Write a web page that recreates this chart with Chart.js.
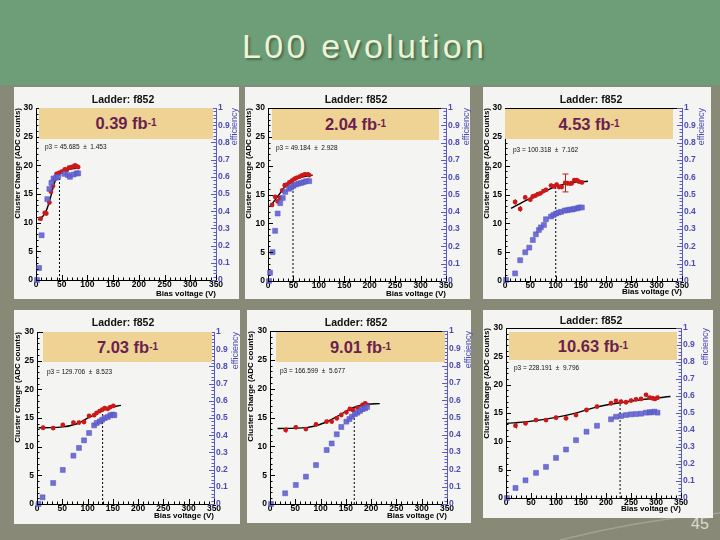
<!DOCTYPE html>
<html>
<head>
<meta charset="utf-8">
<script src="https://cdn.jsdelivr.net/npm/chart.js@4.4.0/dist/chart.umd.min.js"></script>
<style>
html,body{margin:0;padding:0;}
body{width:720px;height:540px;position:relative;overflow:hidden;background:#888977;font-family:"Liberation Sans",Arial,sans-serif;}
#header{position:absolute;left:0;top:0;width:720px;height:85px;background:#6d9e78;}
#title{position:absolute;left:242px;top:29px;font-size:34px;line-height:34px;letter-spacing:3.3px;color:#eef3d6;text-shadow:2px 2px 2px rgba(40,70,45,0.55);white-space:nowrap;}
#pageno{position:absolute;left:691px;top:516px;font-size:16px;line-height:16px;color:#dcdccc;}
#deco{position:absolute;left:0;top:0;}
.panel{position:absolute;background:#f4f4f2;}
.panel canvas{position:absolute;left:0;top:0;}
.ov{position:absolute;white-space:nowrap;}
.ladder{font-size:10.5px;line-height:11px;font-weight:bold;color:#111;transform:translateX(-50%);}
.leg{background:#eed395;display:flex;align-items:center;justify-content:center;font-weight:bold;font-size:16.5px;color:#6b1f4f;}
.leg sup{font-size:10px;position:relative;top:-1px;}
.par{font-size:6.5px;line-height:7px;color:#111;}
.eff{font-size:9px;line-height:9px;color:#4b4bb5;transform-origin:0 0;transform:rotate(-90deg) translate(-100%,-50%);}
</style>
</head>
<body>
<div id="header"></div>
<div id="title">L00 evolution</div>
<svg id="deco" width="720" height="540"><path d="M560 540 Q 640 520 720 513" fill="none" stroke="rgba(255,255,255,0.22)" stroke-width="1.5"/></svg>
<div id="pageno">45</div>

<script>
// ---------------- DATA ----------------
const luminosity = ['0.39', '2.04', '4.53', '7.03', '9.01', '10.63'];
const ladderName = 'f852';
const p3Values = [45.685, 49.184, 100.318, 129.706, 166.599, 228.191];
const p3Errors = [1.453, 2.928, 7.162, 8.523, 5.677, 9.796];
const p3Charge = [18.6, 17.35, 16.4, 16.4, 16.75, 16.85];

const xTicks = [0, 50, 100, 150, 200, 250, 300, 350];

// panel 1 : 0.39 fb-1
const effV1 = [2, 6, 11, 22, 26, 30, 34, 39, 43, 55, 62, 66, 73, 79, 82];
const eff1  = [0.0, 0.07, 0.26, 0.47, 0.53, 0.565, 0.59, 0.595, 0.60, 0.617, 0.61, 0.60, 0.613, 0.62, 0.62];
const redV1 = [9, 17, 20, 26, 29, 33, 36, 40, 45, 50, 56, 60, 64, 69, 73, 76, 79, 82];
const q1    = [10.7, 11.7, 11.6, 13.5, 15.4, 16.4, 17.6, 18.5, 18.7, 18.9, 19.3, 19.2, 19.6, 19.7, 19.8, 20.0, 19.8, 19.7];
const err1  = [0.35, 0.35, 0.35, 0.35, 0.35, 0.35, 0.35, 0.35, 0.35, 0.35, 0.35, 0.35, 0.35, 0.35, 0.35, 0.35, 0.35, 0.35];
const fitV1 = [4, 10, 15, 20, 25, 30, 35, 40, 45, 50, 60, 70, 85];
const fitQ1 = [10.5, 10.8, 11.3, 12.1, 13.4, 15.0, 16.7, 17.9, 18.6, 18.9, 19.2, 19.4, 19.6];

// panel 2 : 2.04 fb-1
const effV2 = [2, 4, 9, 14, 19, 24, 29, 34, 41, 45, 50, 55, 60, 65, 70, 75, 81];
const eff2  = [0.0, 0.048, 0.167, 0.29, 0.39, 0.45, 0.48, 0.515, 0.533, 0.54, 0.55, 0.558, 0.563, 0.567, 0.571, 0.577, 0.577];
const redV2 = [8, 14, 19, 24, 28, 33, 37, 42, 47, 52, 56, 62, 67, 72, 78, 81];
const q2    = [13.2, 14.6, 13.8, 14.4, 15.7, 16.6, 16.7, 17.1, 17.4, 17.7, 17.9, 18.1, 18.3, 18.5, 18.5, 18.35];
const err2  = [0.35, 0.35, 0.35, 0.35, 0.35, 0.35, 0.35, 0.35, 0.35, 0.35, 0.35, 0.35, 0.35, 0.35, 0.35, 0.35];
const fitV2 = [4, 12, 22, 32, 48, 65, 88];
const fitQ2 = [13.0, 13.85, 15.0, 16.2, 17.3, 18.0, 18.35];

// panel 3 : 4.53 fb-1
const effV3 = [2, 20, 30, 40, 48, 55, 61, 67, 71, 77, 81, 91, 96, 101, 106, 111, 118, 123, 128, 133, 137, 143, 147, 152];
const eff3  = [0.006, 0.044, 0.12, 0.166, 0.193, 0.237, 0.27, 0.295, 0.31, 0.324, 0.357, 0.373, 0.382, 0.39, 0.396, 0.40, 0.407, 0.409, 0.413, 0.413, 0.417, 0.42, 0.425, 0.425];
const redV3 = [20, 30, 40, 50, 55, 60, 65, 70, 76, 81, 91, 96, 102, 107, 112, 119, 123, 128, 132, 137, 142, 146, 152];
const q3    = [13.7, 12.5, 14.5, 14.1, 14.65, 14.8, 15.05, 15.2, 15.6, 15.8, 16.55, 16.4, 16.7, 16.3, 16.3, 17.0, 16.95, 16.9, 16.95, 17.5, 17.5, 17.25, 17.1];
const err3  = [0.45, 0.5, 0.35, 0.35, 0.35, 0.35, 0.35, 0.35, 0.35, 0.35, 0.35, 0.35, 0.35, 0.35, 0.35, 1.55, 0.35, 0.35, 0.35, 0.35, 0.35, 0.35, 0.35];
const fitV3 = [12, 45, 78, 101, 131, 164];
const fitQ3 = [12.6, 14.1, 15.5, 16.4, 17.05, 17.3];

// panel 4 : 7.03 fb-1
const effV4 = [3, 11, 32, 51, 72, 83, 93, 103, 113, 118, 124, 129, 134, 140, 145, 150, 153];
const eff4  = [0.0, 0.039, 0.122, 0.198, 0.281, 0.326, 0.37, 0.413, 0.457, 0.471, 0.48, 0.49, 0.50, 0.506, 0.516, 0.52, 0.516];
const redV4 = [12, 32, 51, 72, 83, 93, 103, 113, 118, 124, 129, 134, 140, 145, 151];
const q4    = [13.3, 13.25, 13.8, 14.2, 14.2, 14.3, 15.35, 15.5, 15.9, 16.2, 16.45, 16.7, 16.6, 16.9, 17.1];
const err4  = [0.35, 0.35, 0.35, 0.35, 0.35, 0.35, 0.35, 0.35, 0.35, 0.35, 0.35, 0.35, 0.35, 0.35, 0.35];
const fitV4 = [3, 46, 79, 102, 122, 138, 166];
const fitQ4 = [13.3, 13.4, 14.0, 15.05, 16.0, 16.7, 17.2];

// panel 5 : 9.01 fb-1
const effV5 = [2, 30, 51, 71, 91, 112, 122, 132, 141, 151, 157, 162, 168, 173, 178, 183, 188, 192];
const eff5  = [0.0, 0.062, 0.11, 0.158, 0.225, 0.312, 0.35, 0.403, 0.445, 0.476, 0.491, 0.505, 0.52, 0.528, 0.538, 0.549, 0.553, 0.561];
const redV5 = [31, 51, 71, 91, 112, 122, 132, 141, 151, 158, 164, 173, 183, 188, 192];
const q5    = [12.83, 13.3, 13.0, 13.8, 14.3, 14.3, 14.86, 15.43, 15.9, 16.47, 16.3, 16.7, 17.17, 17.45, 17.17];
const err5  = [0.45, 0.35, 0.35, 0.35, 0.35, 0.35, 0.35, 0.35, 0.35, 0.35, 0.35, 0.35, 0.35, 0.35, 0.35];
const fitV5 = [15, 72, 105, 132, 164, 194, 217];
const fitQ5 = [13.1, 13.25, 14.0, 15.15, 16.7, 17.3, 17.4];

// panel 6 : 10.63 fb-1
const effV6 = [2, 19, 39, 60, 80, 100, 120, 140, 161, 182, 210, 220, 230, 240, 250, 260, 270, 280, 287, 291, 297, 303];
const eff6  = [0.0, 0.059, 0.104, 0.148, 0.183, 0.236, 0.285, 0.34, 0.39, 0.425, 0.463, 0.478, 0.482, 0.488, 0.492, 0.494, 0.496, 0.502, 0.504, 0.504, 0.508, 0.502];
const redV6 = [19, 39, 60, 80, 100, 120, 140, 161, 182, 210, 220, 230, 240, 250, 260, 270, 280, 287, 293, 298, 303];
const q6    = [12.76, 13.17, 13.76, 13.76, 14.18, 14.06, 14.65, 15.53, 16.13, 16.72, 17.13, 17.0, 16.9, 17.19, 17.42, 17.48, 18.2, 17.7, 17.6, 17.48, 17.7];
const err6  = [0.5, 0.35, 0.35, 0.35, 0.35, 0.35, 0.35, 0.35, 0.35, 0.35, 0.35, 0.35, 0.35, 0.35, 0.35, 0.35, 0.35, 0.35, 0.35, 0.35, 0.35];
const fitV6 = [1, 44, 97, 137, 177, 230, 277, 329];
const fitQ6 = [13.17, 13.47, 14.18, 14.94, 15.95, 16.83, 17.42, 17.9];

const series = [
  {effV: effV1, eff: eff1, redV: redV1, q: q1, err: err1, fitV: fitV1, fitQ: fitQ1},
  {effV: effV2, eff: eff2, redV: redV2, q: q2, err: err2, fitV: fitV2, fitQ: fitQ2},
  {effV: effV3, eff: eff3, redV: redV3, q: q3, err: err3, fitV: fitV3, fitQ: fitQ3},
  {effV: effV4, eff: eff4, redV: redV4, q: q4, err: err4, fitV: fitV4, fitQ: fitQ4},
  {effV: effV5, eff: eff5, redV: redV5, q: q5, err: err5, fitV: fitV5, fitQ: fitQ5},
  {effV: effV6, eff: eff6, redV: redV6, q: q6, err: err6, fitV: fitV6, fitQ: fitQ6}
];

// ---------------- LAYOUT (page pixels) ----------------
// box: [left, top, width, height]; area: [left, right, top, bottom]
const layout = [
  {box: [14, 87, 225, 212],  area: [36, 216, 108, 280],  xtPad: 0, ladder: [123, 99],  leg: [39, 108, 174, 31],  par: [45, 146],  eff: [234, 108]},
  {box: [245, 87, 225, 212], area: [268, 446, 108, 281], xtPad: 0, ladder: [356, 99],  leg: [272, 109, 167, 31], par: [276, 147], eff: [466, 108]},
  {box: [483, 87, 228, 212], area: [505, 682, 108, 281], xtPad: 2, ladder: [591, 99],  leg: [505, 109, 168, 30], par: [513, 149], eff: [701, 108]},
  {box: [14, 310, 226, 214], area: [37, 214, 332, 504],  xtPad: 3, ladder: [123, 322], leg: [43, 332, 169, 30],  par: [47, 371],  eff: [235, 332]},
  {box: [247, 310, 224, 213], area: [270, 447, 331, 504], xtPad: 2, ladder: [356, 322], leg: [276, 332, 169, 30], par: [280, 370], eff: [468, 331]},
  {box: [483, 310, 230, 208], area: [506, 681, 328, 498], xtPad: 4, ladder: [591, 320], leg: [509, 332, 168, 28], par: [514, 367], eff: [705, 328]}
];

const FONT = '"Liberation Sans", Arial, sans-serif';
const BLUE_AXIS = '#5a5ac8';
const BLUE_TXT = '#4b4bb5';
const RED = '#cc1818';

const rootAxes = {
  id: 'rootAxes',
  beforeDatasetsDraw(chart) {
    const ctx = chart.ctx, xs = chart.scales.x, ys = chart.scales.y;
    chart.data.datasets.forEach(ds => {
      if (!ds.errs) return;
      ctx.save();
      ctx.strokeStyle = ds.borderColor;
      ctx.lineWidth = 1;
      ds.data.forEach((p, i) => {
        const e = ds.errs[i];
        const px = Math.round(xs.getPixelForValue(p.x)) + 0.5;
        const a = ys.getPixelForValue(p.y - e), b = ys.getPixelForValue(p.y + e);
        ctx.beginPath();
        ctx.moveTo(px, a); ctx.lineTo(px, b);
        if (e > 1) {
          ctx.moveTo(px - 3, a); ctx.lineTo(px + 3, a);
          ctx.moveTo(px - 3, b); ctx.lineTo(px + 3, b);
        }
        ctx.stroke();
      });
      ctx.restore();
    });
  },
  afterDraw(chart) {
    const ctx = chart.ctx, ca = chart.chartArea;
    const xs = chart.scales.x, ys = chart.scales.y, y2 = chart.scales.y2;
    ctx.save();
    ctx.lineWidth = 1;
    ctx.strokeStyle = '#000';
    ctx.beginPath();
    ctx.moveTo(ca.left, Math.round(ca.top) + 0.5);
    ctx.lineTo(ca.right, Math.round(ca.top) + 0.5);
    for (let v = 0; v <= 350; v += 10) {
      const p = Math.round(xs.getPixelForValue(v)) + 0.5;
      const l = v % 50 === 0 ? 5 : 2.5;
      ctx.moveTo(p, ca.bottom); ctx.lineTo(p, ca.bottom - l);
    }
    for (let v = 0; v <= 30; v += 1) {
      const p = Math.round(ys.getPixelForValue(v)) + 0.5;
      const l = v % 5 === 0 ? 5 : 2.5;
      ctx.moveTo(ca.left, p); ctx.lineTo(ca.left + l, p);
    }
    ctx.stroke();
    ctx.strokeStyle = BLUE_AXIS;
    ctx.beginPath();
    for (let k = 0; k <= 50; k++) {
      const p = Math.round(y2.getPixelForValue(k / 50)) + 0.5;
      const l = k % 5 === 0 ? 5 : 2.5;
      ctx.moveTo(ca.right, p); ctx.lineTo(ca.right - l, p);
    }
    ctx.stroke();
    ctx.restore();
  }
};

function tickFont(size) { return {family: FONT, size: size, weight: 'bold'}; }

layout.forEach((L, i) => {
  const S = series[i];
  const [px, py, pw, ph] = L.box;
  const [aL, aR, aT, aB] = L.area;

  const panel = document.createElement('div');
  panel.className = 'panel';
  panel.style.cssText = `left:${px}px;top:${py}px;width:${pw}px;height:${ph}px;`;
  const cv = document.createElement('canvas');
  cv.width = pw; cv.height = ph;
  cv.style.width = pw + 'px'; cv.style.height = ph + 'px';
  panel.appendChild(cv);
  document.body.appendChild(panel);

  const add = (cls, html, css) => {
    const d = document.createElement('div');
    d.className = 'ov ' + cls;
    d.innerHTML = html;
    d.style.cssText += css;
    document.body.appendChild(d);
    return d;
  };
  add('par', `p3 = ${p3Values[i].toFixed(3)} &nbsp;±&nbsp; ${p3Errors[i].toFixed(3)}`, `left:${L.par[0]}px;top:${L.par[1] - 3.5}px;`);
  add('ladder', `Ladder: ${ladderName}`, `left:${L.ladder[0]}px;top:${L.ladder[1] - 5.5}px;`);
  add('leg', `${luminosity[i]} fb<sup>-1</sup>`, `left:${L.leg[0]}px;top:${L.leg[1]}px;width:${L.leg[2]}px;height:${L.leg[3]}px;`);
  add('eff', 'efficiency', `left:${L.eff[0]}px;top:${L.eff[1]}px;`);

  new Chart(cv, {
    type: 'scatter',
    data: {
      datasets: [
        {
          type: 'scatter', label: 'efficiency', yAxisID: 'y2', order: 0, clip: false,
          data: S.effV.map((v, k) => ({x: v, y: S.eff[k]})),
          pointStyle: 'rect', pointRadius: 3.5, pointHoverRadius: 3.5,
          backgroundColor: 'rgba(100,100,210,0.92)', borderColor: 'rgba(80,80,190,1)', borderWidth: 0.5
        },
        {
          type: 'scatter', label: 'cluster charge', yAxisID: 'y', order: 1, clip: false,
          data: S.redV.map((v, k) => ({x: v, y: S.q[k]})), errs: S.err,
          pointStyle: 'circle', pointRadius: 2.4, pointHoverRadius: 2.4,
          backgroundColor: RED, borderColor: RED, borderWidth: 0
        },
        {
          type: 'line', label: 'fit', yAxisID: 'y', order: 2,
          data: S.fitV.map((v, k) => ({x: v, y: S.fitQ[k]})),
          borderColor: '#000', borderWidth: 1.4, pointRadius: 0, fill: false,
          cubicInterpolationMode: 'monotone'
        },
        {
          type: 'line', label: 'p3', yAxisID: 'y', order: 3,
          data: [{x: p3Values[i], y: 0}, {x: p3Values[i], y: p3Charge[i]}],
          borderColor: '#000', borderWidth: 1, borderDash: [2, 2], pointRadius: 0, fill: false
        }
      ]
    },
    options: {
      responsive: false, animation: false, devicePixelRatio: 1,
      layout: {padding: {top: aT - py, left: 0, right: 0, bottom: 0}},
      plugins: {legend: {display: false}, tooltip: {enabled: false}},
      scales: {
        x: {
          type: 'linear', min: 0, max: 350,
          afterBuildTicks: s => { s.ticks = xTicks.map(v => ({value: v})); },
          ticks: {autoSkip: false, maxRotation: 0, padding: 0, color: '#000', font: tickFont(8.5)},
          grid: {display: true, drawOnChartArea: false, drawTicks: false},
          border: {display: true, color: '#000', width: 1},
          title: {display: true, text: 'Bias voltage (V)', align: 'end', color: '#000',
                  font: {family: FONT, size: 8, weight: 'bold', lineHeight: 1.2}, padding: {top: 0, bottom: L.xtPad}},
          afterFit: s => { s.height = py + ph - aB; }
        },
        y: {
          type: 'linear', position: 'left', min: 0, max: 30,
          ticks: {stepSize: 5, padding: 3, color: '#000', font: tickFont(8.5)},
          grid: {display: true, drawOnChartArea: false, drawTicks: false},
          border: {display: true, color: '#000', width: 1},
          title: {display: true, text: 'Cluster Charge (ADC counts)', align: 'end', color: '#000',
                  font: {family: FONT, size: 8, weight: 'bold', lineHeight: 1}, padding: {top: 0, bottom: 0}},
          afterFit: s => { s.width = aL - px; }
        },
        y2: {
          type: 'linear', position: 'right', min: 0, max: 1,
          ticks: {stepSize: 0.1, padding: 2, color: BLUE_TXT, font: tickFont(8.5),
                  callback: v => String(Math.round(v * 10) / 10)},
          grid: {display: true, drawOnChartArea: false, drawTicks: false},
          border: {display: true, color: BLUE_AXIS, width: 1},
          afterFit: s => { s.width = px + pw - aR; }
        }
      }
    },
    plugins: [rootAxes]
  });
});
</script>
</body>
</html>
